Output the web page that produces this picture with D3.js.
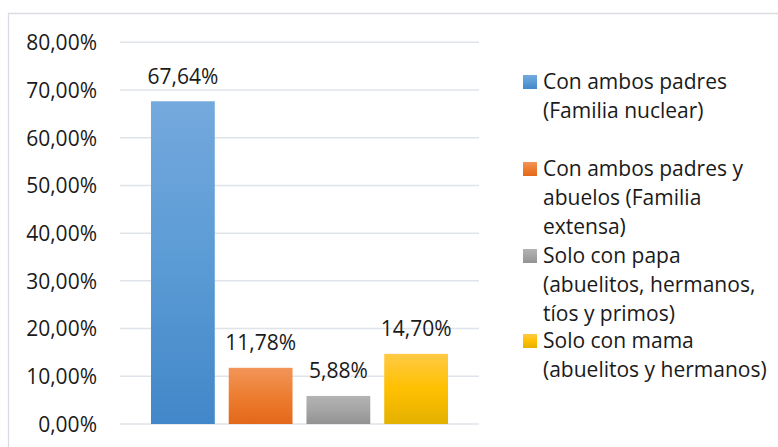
<!DOCTYPE html>
<html><head><meta charset="utf-8">
<script src="https://cdn.jsdelivr.net/npm/d3@7"></script>
<style>body{margin:0;background:#fff}svg{display:block}text{font-family:"Open Sans",sans-serif;fill:#1a1a1a}</style>
</head><body><svg id="c" width="778" height="447"></svg>
<script>
const series = ["Con ambos padres (Familia nuclear)","Con ambos padres y abuelos (Familia extensa)","Solo con papa (abuelitos, hermanos, tíos y primos)","Solo con mama (abuelitos y hermanos)"];
const values = [67.64, 11.78, 5.88, 14.70];
const valueLabels = ["67,64%","11,78%","5,88%","14,70%"];
const yTicks = [0,10,20,30,40,50,60,70,80];
const yTickLabels = ["0,00%","10,00%","20,00%","30,00%","40,00%","50,00%","60,00%","70,00%","80,00%"];
const legendLines = [["Con ambos padres","(Familia nuclear)"],["Con ambos padres y","abuelos (Familia","extensa)"],["Solo con papa","(abuelitos, hermanos,","tíos y primos)"],["Solo con mama","(abuelitos y hermanos)"]];
const colorsTop = ["#74a9dd","#f29559","#b3b3b3","#ffca45"];
const colorsMid = ["#5b9bd5","#ed7d31","#a5a5a5","#ffc000"];
const colorsBot = ["#4287c9","#e3681a","#929292","#e3b100"];

const svg = d3.select("#c");
const defs = svg.append("defs");
series.forEach((s,i)=>{
  const g = defs.append("linearGradient").attr("id","g"+i).attr("x1",0).attr("y1",0).attr("x2",0).attr("y2",1);
  g.append("stop").attr("offset","0%").attr("stop-color",colorsTop[i]);
  g.append("stop").attr("offset","50%").attr("stop-color",colorsMid[i]);
  g.append("stop").attr("offset","100%").attr("stop-color",colorsBot[i]);
});

// chart border
svg.append("path").attr("d","M8.5,447 V13.5 H778").attr("fill","none").attr("stroke","#d9dce3").attr("stroke-width",1.3);

const y = d3.scaleLinear().domain([0,80]).range([424,42.3]);
const x = d3.scaleBand().domain(series).range([144,455]).paddingInner(14/78).paddingOuter(14/78/2);

// gridlines
svg.append("g").selectAll("line").data(yTicks).join("line")
  .attr("x1",120).attr("x2",479).attr("y1",d=>y(d)).attr("y2",d=>y(d))
  .attr("stroke","#dfe3ea").attr("stroke-width",1.5);

// y axis labels
const yAxis = d3.axisLeft(y).tickValues(yTicks).tickFormat((d,i)=>yTickLabels[i]).tickSize(0).tickPadding(0);
const ga = svg.append("g").attr("transform","translate(97,0)").call(yAxis);
ga.select(".domain").remove();
ga.selectAll("text").attr("font-size",21).attr("font-family","'Open Sans',sans-serif").attr("fill","#1a1a1a").attr("dy","0.35em");

// bars
svg.append("g").selectAll("rect").data(values).join("rect")
  .attr("x",(d,i)=>x(series[i])).attr("width",x.bandwidth())
  .attr("y",d=>y(d)).attr("height",d=>y(0)-y(d))
  .attr("fill",(d,i)=>`url(#g${i})`);

// value labels
svg.append("g").selectAll("text").data(values).join("text")
  .attr("x",(d,i)=>x(series[i])+x.bandwidth()/2).attr("y",d=>y(d)-25)
  .attr("dy","0.35em").attr("text-anchor","middle").attr("font-size",21)
  .text((d,i)=>valueLabels[i]);

// legend
const lineH = 29;
const lg = svg.append("g");
legendLines.forEach((lines,i)=>{
  const top = 82 + i*3*lineH - (i===3?2:0);
  lg.append("rect").attr("x",523).attr("y",top-7).attr("width",14).attr("height",14).attr("fill",`url(#g${i})`);
  lines.forEach((t,j)=>{
    lg.append("text").attr("x",543).attr("y",top+j*lineH).attr("dy","0.35em").attr("font-size",21).text(t);
  });
});
</script></body></html>
